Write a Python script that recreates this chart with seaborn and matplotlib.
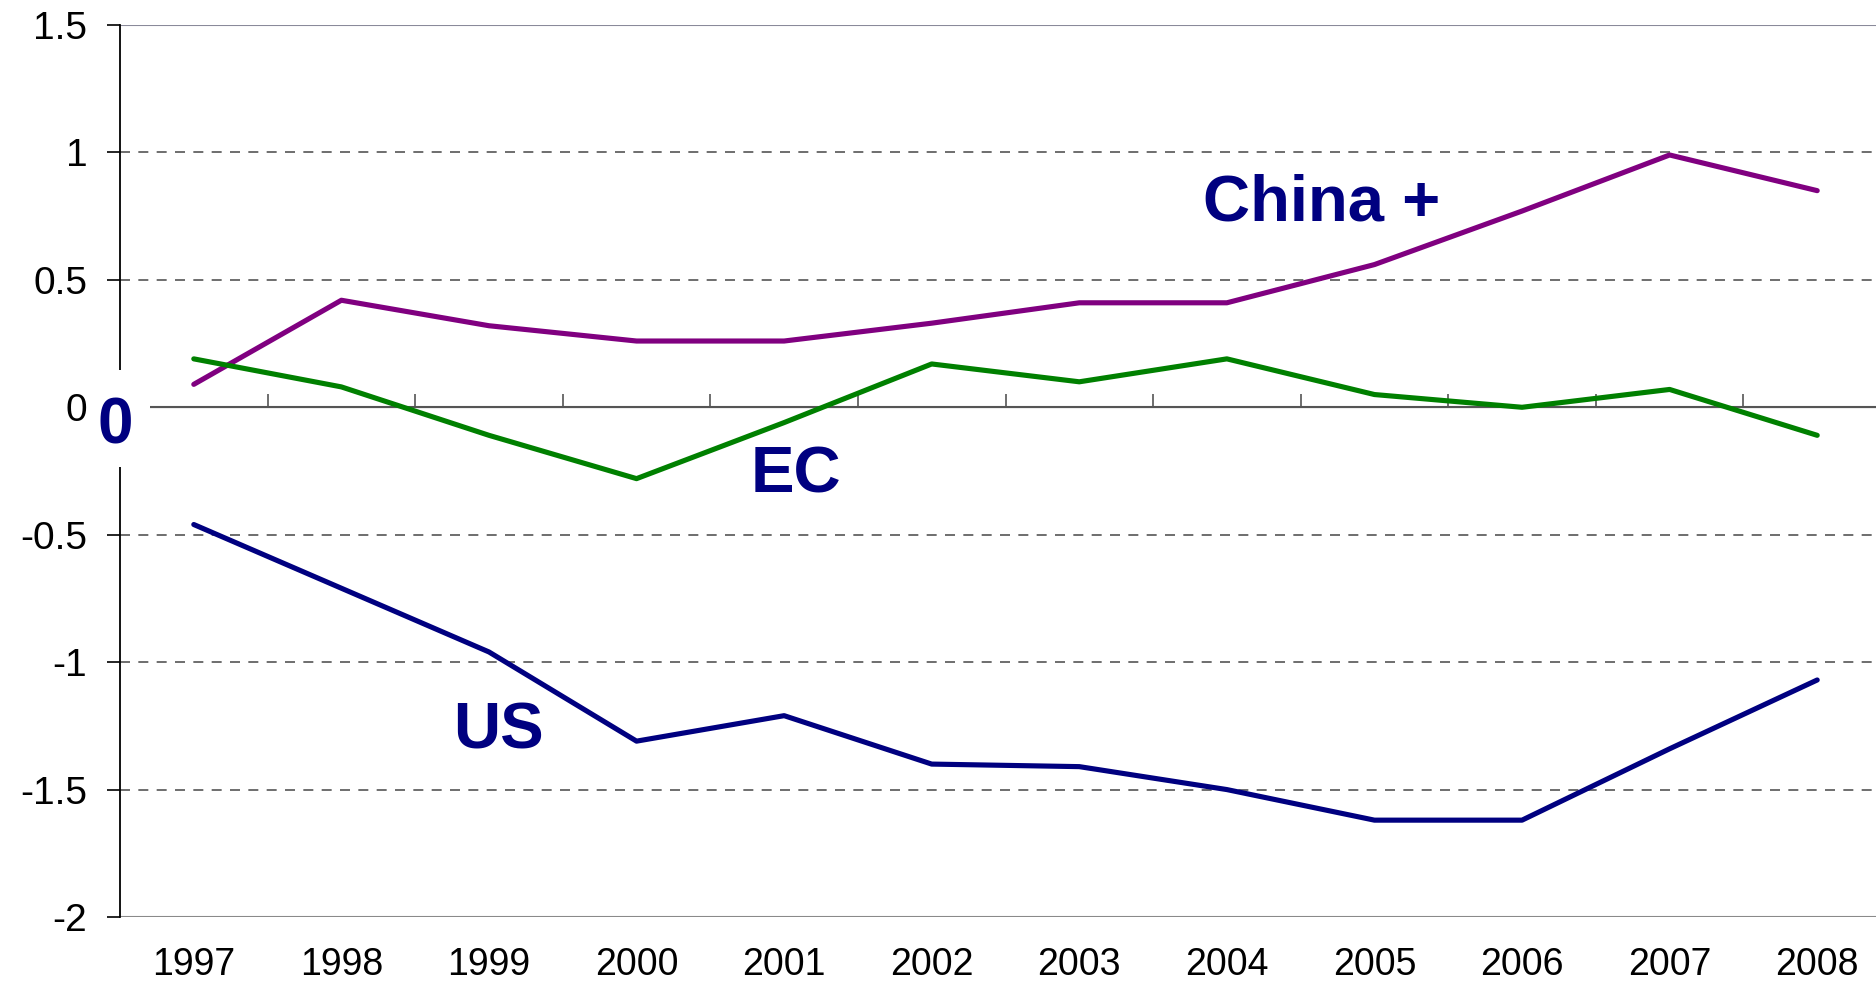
import numpy as np
import pandas as pd
import matplotlib
matplotlib.use("Agg")
import matplotlib.pyplot as plt
from matplotlib.patches import Rectangle
import seaborn as sns

# values
years = ['1997', '1998', '1999', '2000', '2001', '2002', '2003', '2004', '2005', '2006', '2007', '2008']
china_plus = [0.09, 0.42, 0.32, 0.26, 0.26, 0.33, 0.41, 0.41, 0.56, 0.77, 0.99, 0.85]
ec = [0.19, 0.08, -0.11, -0.28, -0.06, 0.17, 0.10, 0.19, 0.05, 0.00, 0.07, -0.11]
us = [-0.46, -0.71, -0.96, -1.31, -1.21, -1.40, -1.41, -1.50, -1.62, -1.62, -1.34, -1.07]
series_names = ['China +', 'EC', 'US']
colors = {'China +': '#800080', 'EC': '#008000', 'US': '#000080'}
y_ticks = [1.5, 1, 0.5, 0, -0.5, -1, -1.5, -2]
y_tick_labels = ['1.5', '1', '0.5', '0', '-0.5', '-1', '-1.5', '-2']

df = pd.DataFrame({
    'pos': list(range(len(years))) * 3,
    'value': china_plus + ec + us,
    'series': [n for n in series_names for _ in years],
})

sns.set_style('white')
plt.rcParams['font.family'] = ['Liberation Sans', 'DejaVu Sans']

fig = plt.figure(figsize=(18.76, 9.91), dpi=100)
ax = fig.add_axes([120 / 1876, 74 / 991, 1771 / 1876, 892 / 991])

sns.lineplot(data=df, x='pos', y='value', hue='series', palette=colors,
             legend=False, ax=ax, zorder=3)
for ln in ax.get_lines():
    ln.set_linewidth(3.7)
    ln.set_solid_capstyle('round')
    ln.set_solid_joinstyle('round')

# grid lines
for v in [1, 0.5, -0.5, -1, -1.5]:
    ax.axhline(v, color='#555555', lw=1.2, ls=(0, (6, 5)), zorder=1)
ax.axhline(1.5, color='#8a8a9a', lw=1.5, zorder=1)
ax.axhline(-2, color='#8a8a8a', lw=1.5, zorder=1)
ax.axhline(0, color='#555555', lw=1.5, zorder=1)

ax.set_xlim(-0.5, len(years) - 0.5)
ax.set_ylim(-2, 1.5)
ax.set_xlabel('')
ax.set_ylabel('')

for s in ['top', 'right', 'bottom']:
    ax.spines[s].set_visible(False)
ax.spines['left'].set_color('black')
ax.spines['left'].set_linewidth(1.3)

ax.set_yticks(y_ticks)
ax.set_yticklabels(y_tick_labels)
ax.tick_params(axis='y', direction='out', length=9.5, width=1.2, color='black',
               pad=14, labelsize=28, labelcolor='black', left=True)
ax.set_xticks(range(len(years)))
ax.set_xticklabels(years)
ax.tick_params(axis='x', length=0, pad=21.5, labelsize=27, labelcolor='black', bottom=False)

# tick marks on the zero line, between the categories
sec = ax.secondary_xaxis(2 / 3.5)
sec.spines['bottom'].set_visible(False)
sec.set_xticks(np.arange(0.5, len(years) - 0.5, 1.0))
sec.set_xticklabels([])
sec.tick_params(axis='x', direction='out', length=9.5, width=1.2, color='#555555')

# series labels
label_style = dict(fontsize=47, fontweight='bold', color='#000080', ha='left', va='baseline')
ax.text(6.84, 0.734, 'China +', **label_style)
ax.text(3.77, -0.334, 'EC', **label_style)
ax.text(1.756, -1.339, 'US', **label_style)

# break in the y axis behind the bold zero
fig.add_artist(Rectangle((92 / 1876, (991 - 467) / 991), 58 / 1876, 97 / 991,
                         transform=fig.transFigure, facecolor='white',
                         edgecolor='none', zorder=5))
fig.text(97 / 1876, (991 - 443) / 991, '0', fontsize=46, fontweight='bold',
         color='#000080', ha='left', va='baseline', zorder=6)

fig.savefig('out.png', dpi=100)
